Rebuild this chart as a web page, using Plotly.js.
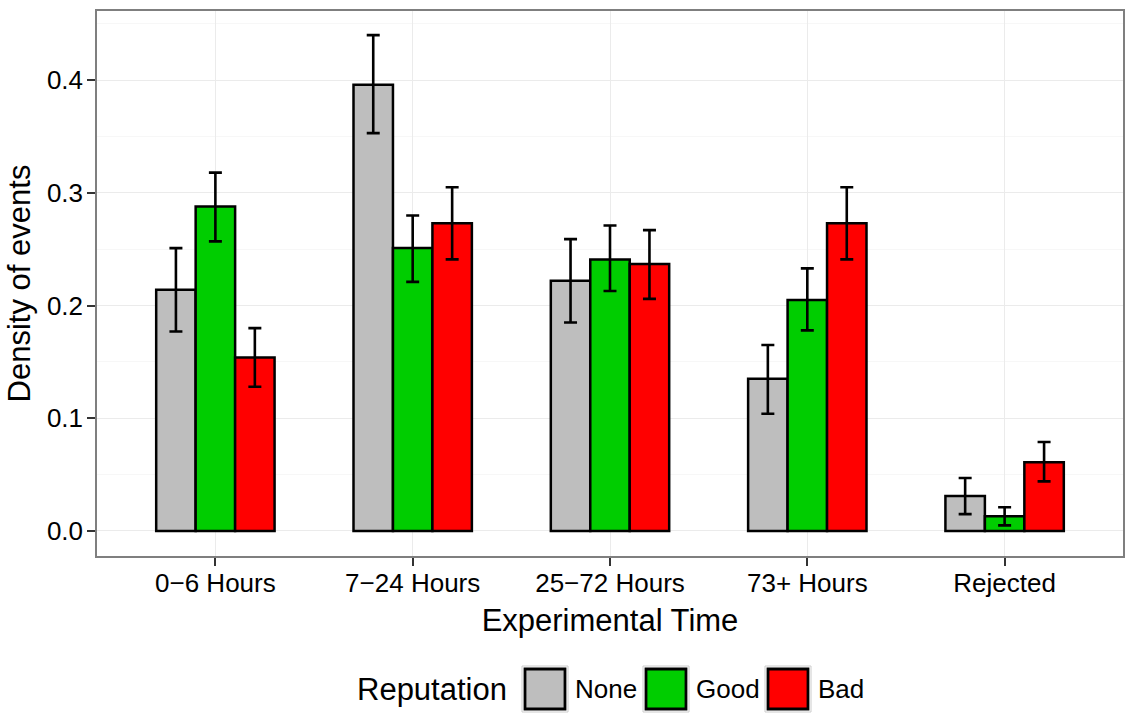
<!DOCTYPE html>
<html><head><meta charset="utf-8">
<script src="https://cdn.plot.ly/plotly-3.0.1.min.js"></script>
<style>html,body{margin:0;padding:0;background:#fff}#chart{width:1126px;height:719px}</style>
</head><body><div id="chart"></div>
<script>
// ---- data ----
const categories = ["0−6 Hours", "7−24 Hours", "25−72 Hours", "73+ Hours", "Rejected"];
const seriesNames = ["None", "Good", "Bad"];
const seriesColors = ["#BEBEBE", "#00CD00", "#FF0000"];
const noneValues = [0.214, 0.396, 0.222, 0.135, 0.031];
const noneUpper  = [0.251, 0.440, 0.259, 0.165, 0.047];
const noneLower  = [0.177, 0.353, 0.185, 0.104, 0.015];
const goodValues = [0.288, 0.251, 0.241, 0.205, 0.013];
const goodUpper  = [0.318, 0.280, 0.271, 0.233, 0.021];
const goodLower  = [0.257, 0.221, 0.213, 0.178, 0.005];
const badValues  = [0.154, 0.273, 0.237, 0.273, 0.061];
const badUpper   = [0.180, 0.305, 0.267, 0.305, 0.079];
const badLower   = [0.128, 0.241, 0.206, 0.241, 0.044];
const yTickVals = [0, 0.1, 0.2, 0.3, 0.4];
const yTickText = ["0.0", "0.1", "0.2", "0.3", "0.4"];
const yMinorVals = [0.05, 0.15, 0.25, 0.35, 0.45];
const xTitle = "Experimental Time";
const yTitle = "Density of events";
const legendTitle = "Reputation";

// ---- geometry ----
const W = 1126, H = 719;
const M = {l: 97, r: 3, t: 11, b: 163};
const pw = W - M.l - M.r, ph = H - M.t - M.b;
const px = x => (x - M.l) / pw;
const py = y => (H - M.b - y) / ph;

const allValues = [noneValues, goodValues, badValues];
const allUpper = [noneUpper, goodUpper, badUpper];
const allLower = [noneLower, goodLower, badLower];

const traces = seriesNames.map((name, i) => ({
  type: "bar",
  name: name,
  x: categories,
  y: allValues[i],
  marker: {color: seriesColors[i], line: {color: "#000", width: 2.5}},
  error_y: {
    type: "data", symmetric: false,
    array: allUpper[i].map((u, k) => u - allValues[i][k]),
    arrayminus: allValues[i].map((v, k) => v - allLower[i][k]),
    color: "#000", thickness: 2.6, width: 6.5
  },
  showlegend: false,
  hoverinfo: "x+y+name"
}));

// ---- manual legend (ggplot-style large keys) ----
const keyX = [522, 643, 765];
const keyTop = 666, keySize = 46;
const shapes = [];
const annotations = [{
  xref: "paper", yref: "paper", x: px(355), y: py(689),
  xanchor: "left", yanchor: "middle", showarrow: false,
  text: legendTitle, font: {size: 31, color: "#000"}
}];
seriesNames.forEach((name, i) => {
  const x0 = keyX[i];
  shapes.push({type: "rect", xref: "paper", yref: "paper",
    x0: px(x0), x1: px(x0 + keySize), y0: py(keyTop), y1: py(keyTop + keySize),
    line: {color: "#cccccc", width: 1}, fillcolor: "#ffffff", layer: "above"});
  shapes.push({type: "rect", xref: "paper", yref: "paper",
    x0: px(x0 + 3), x1: px(x0 + keySize - 3), y0: py(keyTop + 3), y1: py(keyTop + keySize - 3),
    line: {color: "#000", width: 2.8}, fillcolor: seriesColors[i], layer: "above"});
  annotations.push({xref: "paper", yref: "paper", x: px(x0 + keySize + 5), y: py(689),
    xanchor: "left", yanchor: "middle", showarrow: false,
    text: name, font: {size: 26, color: "#000"}});
});

const layout = {
  width: W, height: H,
  margin: M,
  paper_bgcolor: "#fff", plot_bgcolor: "#fff",
  font: {family: "Liberation Sans, Arial, sans-serif", color: "#000"},
  barmode: "group", bargap: 0.4, bargroupgap: 0,
  showlegend: false,
  xaxis: {
    type: "category", range: [-0.6, 4.6],
    showgrid: true, gridcolor: "#ebebeb", gridwidth: 1.3,
    ticks: "outside", ticklen: 8, tickwidth: 1.8, tickcolor: "#333",
    tickfont: {size: 26, color: "#000"},
    ticklabelstandoff: -5,
    showline: true, mirror: true, linecolor: "#7f7f7f", linewidth: 1.5,
    zeroline: false,
    title: {text: xTitle, font: {size: 31, color: "#000"}, standoff: 12}
  },
  yaxis: {
    range: [-0.0222, 0.4614],
    tickvals: yTickVals, ticktext: yTickText,
    showgrid: true, gridcolor: "#ebebeb", gridwidth: 1.3,
    minor: {tickvals: yMinorVals, showgrid: true, gridcolor: "#f7f7f7", gridwidth: 1.3, ticks: ""},
    ticks: "outside", ticklen: 8, tickwidth: 1.8, tickcolor: "#333",
    tickfont: {size: 26, color: "#000"},
    ticklabelstandoff: -1,
    showline: true, mirror: true, linecolor: "#7f7f7f", linewidth: 1.5,
    zeroline: false,
    title: {text: yTitle, font: {size: 31, color: "#000"}, standoff: 7}
  },
  shapes: shapes,
  annotations: annotations
};

Plotly.newPlot("chart", traces, layout, {displayModeBar: false, staticPlot: false});
</script>
</body></html>
